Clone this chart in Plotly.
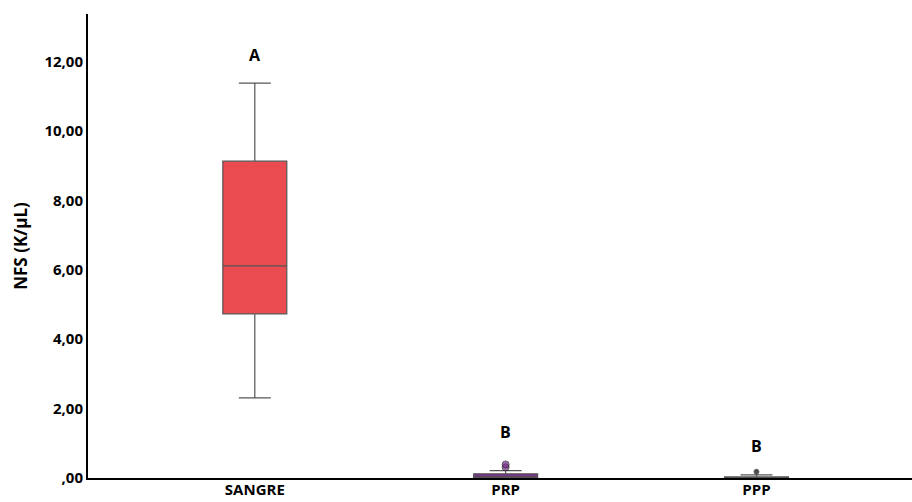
import plotly.graph_objects as go

# Groups and summary statistics (K/µL)
groups = ["SANGRE", "PRP", "PPP"]
q1 = [4.73, 0.0, 0.0]
median = [6.11, 0.03, 0.01]
q3 = [9.13, 0.12, 0.03]
lower_whisker = [2.31, 0.0, 0.0]
upper_whisker = [11.38, 0.21, 0.09]
fill_colors = ["#e94b50", "#7a2e8e", "#2b2b2b"]

# Outlier observations
outlier_groups = ["PRP", "PRP", "PPP"]
outlier_values = [0.31, 0.39, 0.18]
outlier_colors = ["#7a2e8e", "#7a2e8e", "#000000"]
outlier_sizes = [7, 7, 5]

# Significance letters
letter_groups = ["SANGRE", "PRP", "PPP"]
letters = ["A", "B", "B"]
letter_y = [12.19, 1.33, 0.92]

tick_vals = [0, 2, 4, 6, 8, 10, 12]
tick_text = [",00", "2,00", "4,00", "6,00", "8,00", "10,00", "12,00"]

FONT = "Open Sans"

fig = go.Figure()
for g, a, m, b, lo, hi, c in zip(groups, q1, median, q3, lower_whisker, upper_whisker, fill_colors):
    fig.add_trace(go.Box(
        x=[g], q1=[a], median=[m], q3=[b], lowerfence=[lo], upperfence=[hi],
        fillcolor=c, line=dict(color="#555555", width=1.2),
        width=0.255, whiskerwidth=0.5, boxpoints=False, showlegend=False,
        hoverinfo="skip",
    ))

fig.add_trace(go.Scatter(
    x=outlier_groups, y=outlier_values, mode="markers",
    marker=dict(size=outlier_sizes, color=outlier_colors, line=dict(color="#222222", width=1)),
    showlegend=False, hoverinfo="skip",
))

for g, t, yv in zip(letter_groups, letters, letter_y):
    fig.add_annotation(x=g, y=yv, text=t, showarrow=False,
                       font=dict(family=FONT, size=16, color="#000000", weight="bold"))

fig.update_layout(
    width=912, height=502,
    margin=dict(l=88, r=0, t=14, b=24),
    plot_bgcolor="white", paper_bgcolor="white",
    font=dict(family=FONT, size=14, color="#000000"),
    xaxis=dict(
        type="category", categoryorder="array", categoryarray=groups,
        range=[-0.665, 2.62], showgrid=False, zeroline=False,
        showline=True, linecolor="#000000", linewidth=2,
        ticks="", tickfont=dict(family=FONT, size=15, weight="bold"),
        ticklabelstandoff=-3,
        automargin=False,
    ),
    yaxis=dict(
        range=[0, 13.37], showgrid=False, zeroline=False,
        showline=True, linecolor="#000000", linewidth=2,
        tickvals=tick_vals, ticktext=tick_text, ticks="",
        tickfont=dict(family=FONT, size=15, weight="bold"),
        title=dict(text="NFS (K/µL)", font=dict(family=FONT, size=17, weight="bold"), standoff=12),
        automargin=False,
    ),
)

fig.write_html("out.html")
